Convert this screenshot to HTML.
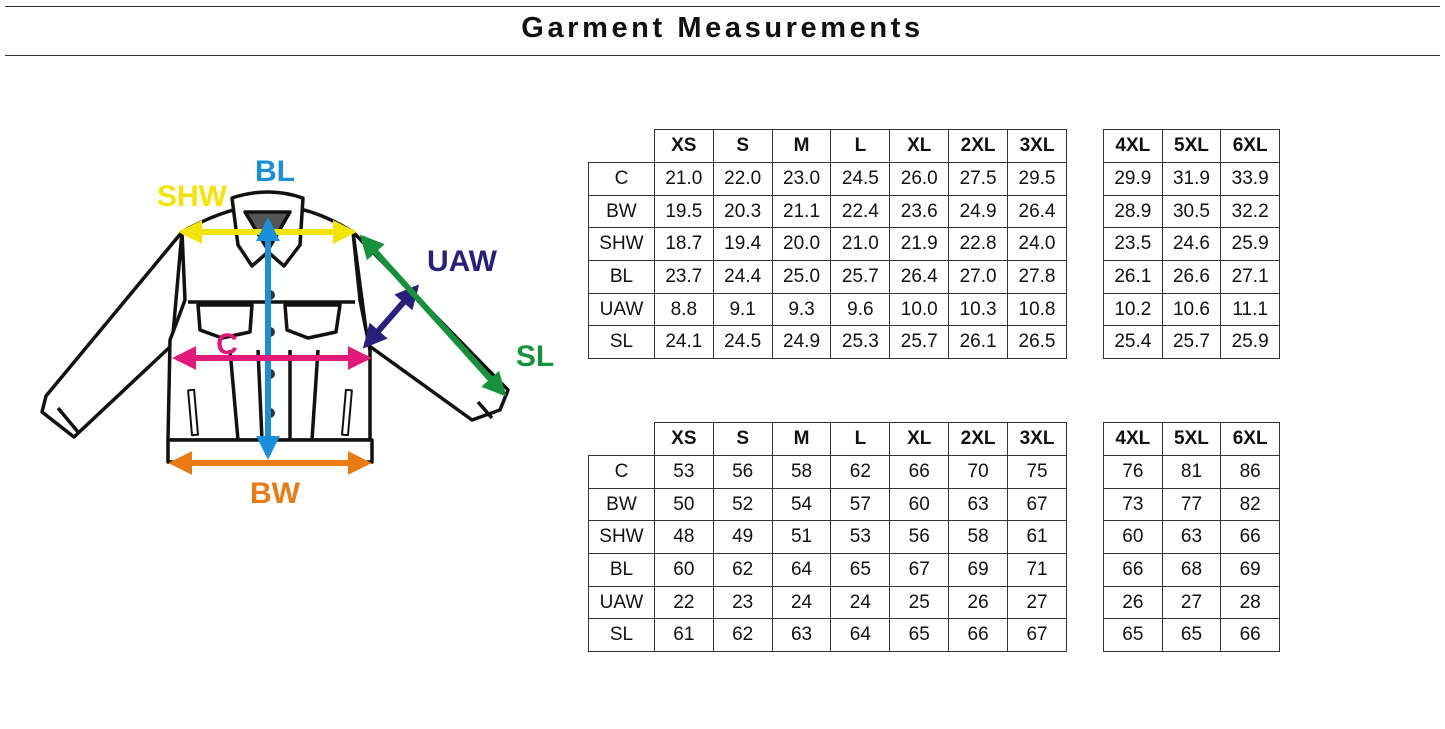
<!DOCTYPE html>
<html><head><meta charset="utf-8"><style>
body{margin:0;width:1445px;height:729px;background:#fff;position:relative;overflow:hidden;font-family:"Liberation Sans",sans-serif}
.hl{position:absolute;left:5px;width:1435px;height:1px;background:#333}
.title{position:absolute;top:12px;left:0;width:1445px;text-align:center;font-weight:bold;font-size:29px;letter-spacing:3.6px;color:#111}
table{position:absolute;border-collapse:collapse;font-size:19px;color:#111}
td{border:1px solid #333;text-align:center;padding:0;height:31.7px}
tr.h td{font-weight:bold;height:32px}
td.e{border:none}
</style></head><body>
<div class="hl" style="top:6px"></div>
<div class="title">Garment Measurements</div>
<div class="hl" style="top:55px"></div>

<svg style="position:absolute;left:0;top:0" width="580" height="520">
<defs>
<marker id="a1" viewBox="0 0 10 10" refX="8" refY="5" markerWidth="4" markerHeight="4" orient="auto-start-reverse"><path d="M0,0L10,5L0,10z" fill="context-stroke"/></marker>
</defs>
<g fill="#fff" stroke="#111" stroke-width="3.5" stroke-linejoin="round">
<path d="M182,232 L46,396 L42,412 L74,437 L172,345 Z"/>
<path d="M353,232 L508,390 L500,410 L472,420 L368,345 Z"/>
<path d="M182,232 Q230,205 268,205 Q310,205 353,232 L360,300 L370,350 L370,440 L168,440 L170,340 L185,300 Z"/>
<rect x="168" y="440" width="204" height="22"/>
<path d="M232,198 Q268,186 303,198 L300,245 L284,266 L268,252 L252,266 L238,245 Z"/>
<path d="M245,212 L290,212 L268,250Z" fill="#555"/>
<path d="M188,302 L355,302" fill="none"/>
<path d="M198,305 L200,330 L222,338 L250,332 L252,305Z"/>
<path d="M285,305 L287,330 L308,338 L336,332 L340,305Z"/>
<path d="M230,350 L238,440 M258,350 L262,440 M318,350 L312,440 M290,350 L290,440" fill="none"/>
<rect x="190" y="390" width="6" height="45" transform="rotate(-5 193 412)" stroke-width="2"/>
<rect x="344" y="390" width="6" height="45" transform="rotate(5 347 412)" stroke-width="2"/>
<path d="M58,408 L78,432 M478,402 L492,418" fill="none"/>
</g>
<g fill="#333"><circle cx="270" cy="295" r="5"/><circle cx="270" cy="332" r="5"/><circle cx="270" cy="374" r="5"/><circle cx="270" cy="413" r="5"/></g>
<g stroke-width="6" fill="none">
<line x1="183" y1="232" x2="352" y2="232" stroke="#f2e600" marker-start="url(#a1)" marker-end="url(#a1)"/>
<line x1="268" y1="222" x2="268" y2="455" stroke="#1a8fd9" marker-start="url(#a1)" marker-end="url(#a1)"/>
<line x1="177" y1="358" x2="367" y2="358" stroke="#e0197a" marker-start="url(#a1)" marker-end="url(#a1)"/>
<line x1="173" y1="463" x2="367" y2="463" stroke="#ea7a14" marker-start="url(#a1)" marker-end="url(#a1)"/>
<line x1="366" y1="345" x2="416" y2="288" stroke="#2a1f7a" marker-start="url(#a1)" marker-end="url(#a1)"/>
<line x1="363" y1="238" x2="503" y2="393" stroke="#16923f" marker-start="url(#a1)" marker-end="url(#a1)"/>
</g>
<g font-family="Liberation Sans,sans-serif" font-weight="bold" font-size="30" text-anchor="middle">
<text x="275" y="181" fill="#1a8fd9">BL</text>
<text x="192" y="206" fill="#f2e600">SHW</text>
<text x="462" y="271" fill="#2a1f7a">UAW</text>
<text x="535" y="366" fill="#16923f">SL</text>
<text x="227" y="354" fill="#e0197a">C</text>
<text x="275" y="503" fill="#ea7a14">BW</text>
</g>
</svg>

<table style="left:588px;top:129px;width:479px">
<colgroup><col style="width:66px"><col span="7" style="width:59px"></colgroup>
<tr class="h"><td class="e"></td><td>XS</td><td>S</td><td>M</td><td>L</td><td>XL</td><td>2XL</td><td>3XL</td></tr>
<tr><td>C</td><td>21.0</td><td>22.0</td><td>23.0</td><td>24.5</td><td>26.0</td><td>27.5</td><td>29.5</td></tr>
<tr><td>BW</td><td>19.5</td><td>20.3</td><td>21.1</td><td>22.4</td><td>23.6</td><td>24.9</td><td>26.4</td></tr>
<tr><td>SHW</td><td>18.7</td><td>19.4</td><td>20.0</td><td>21.0</td><td>21.9</td><td>22.8</td><td>24.0</td></tr>
<tr><td>BL</td><td>23.7</td><td>24.4</td><td>25.0</td><td>25.7</td><td>26.4</td><td>27.0</td><td>27.8</td></tr>
<tr><td>UAW</td><td>8.8</td><td>9.1</td><td>9.3</td><td>9.6</td><td>10.0</td><td>10.3</td><td>10.8</td></tr>
<tr><td>SL</td><td>24.1</td><td>24.5</td><td>24.9</td><td>25.3</td><td>25.7</td><td>26.1</td><td>26.5</td></tr>
</table>
<table style="left:1103px;top:129px;width:177px">
<colgroup><col span="3" style="width:59px"></colgroup>
<tr class="h"><td>4XL</td><td>5XL</td><td>6XL</td></tr>
<tr><td>29.9</td><td>31.9</td><td>33.9</td></tr>
<tr><td>28.9</td><td>30.5</td><td>32.2</td></tr>
<tr><td>23.5</td><td>24.6</td><td>25.9</td></tr>
<tr><td>26.1</td><td>26.6</td><td>27.1</td></tr>
<tr><td>10.2</td><td>10.6</td><td>11.1</td></tr>
<tr><td>25.4</td><td>25.7</td><td>25.9</td></tr>
</table>

<table style="left:588px;top:422px;width:479px">
<colgroup><col style="width:66px"><col span="7" style="width:59px"></colgroup>
<tr class="h"><td class="e"></td><td>XS</td><td>S</td><td>M</td><td>L</td><td>XL</td><td>2XL</td><td>3XL</td></tr>
<tr><td>C</td><td>53</td><td>56</td><td>58</td><td>62</td><td>66</td><td>70</td><td>75</td></tr>
<tr><td>BW</td><td>50</td><td>52</td><td>54</td><td>57</td><td>60</td><td>63</td><td>67</td></tr>
<tr><td>SHW</td><td>48</td><td>49</td><td>51</td><td>53</td><td>56</td><td>58</td><td>61</td></tr>
<tr><td>BL</td><td>60</td><td>62</td><td>64</td><td>65</td><td>67</td><td>69</td><td>71</td></tr>
<tr><td>UAW</td><td>22</td><td>23</td><td>24</td><td>24</td><td>25</td><td>26</td><td>27</td></tr>
<tr><td>SL</td><td>61</td><td>62</td><td>63</td><td>64</td><td>65</td><td>66</td><td>67</td></tr>
</table>
<table style="left:1103px;top:422px;width:177px">
<colgroup><col span="3" style="width:59px"></colgroup>
<tr class="h"><td>4XL</td><td>5XL</td><td>6XL</td></tr>
<tr><td>76</td><td>81</td><td>86</td></tr>
<tr><td>73</td><td>77</td><td>82</td></tr>
<tr><td>60</td><td>63</td><td>66</td></tr>
<tr><td>66</td><td>68</td><td>69</td></tr>
<tr><td>26</td><td>27</td><td>28</td></tr>
<tr><td>65</td><td>65</td><td>66</td></tr>
</table>
</body></html>
